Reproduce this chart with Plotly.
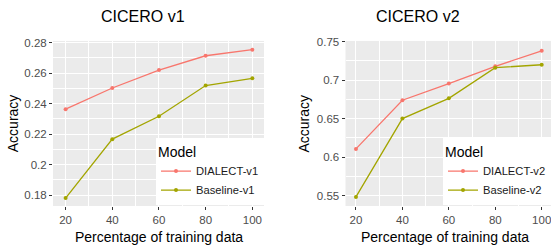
import plotly.graph_objects as go

# ---- data ----
pct = [20, 40, 60, 80, 100]
v1_dialect = [0.2363, 0.2502, 0.2619, 0.2713, 0.2753]
v1_baseline = [0.1781, 0.2167, 0.2317, 0.2518, 0.2565]
v2_dialect = [0.6106, 0.6738, 0.6954, 0.7178, 0.7380]
v2_baseline = [0.5482, 0.6500, 0.6763, 0.7161, 0.7199]
x_ticks = [20, 40, 60, 80, 100]
v1_ticks = [0.18, 0.20, 0.22, 0.24, 0.26, 0.28]
v1_ticklabels = ["0.18", "0.2", "0.22", "0.24", "0.26", "0.28"]
v2_ticks = [0.55, 0.60, 0.65, 0.70, 0.75]
v2_ticklabels = ["0.55", "0.6", "0.65", "0.7", "0.75"]

W, H = 551, 245
RED = "#F8766D"
OLIVE = "#A3A500"
FONT = "Liberation Sans, Arial, sans-serif"

fig = go.Figure()

def add(x, y, name, color, xa, ya, leg):
    fig.add_trace(go.Scatter(
        x=x, y=y, name=name, mode="lines+markers",
        line=dict(color=color, width=1.3),
        marker=dict(color=color, size=4),
        xaxis=xa, yaxis=ya, legend=leg))

add(pct, v1_dialect, "DIALECT-v1", RED, "x", "y", "legend")
add(pct, v1_baseline, "Baseline-v1", OLIVE, "x", "y", "legend")
add(pct, v2_dialect, "DIALECT-v2", RED, "x2", "y2", "legend2")
add(pct, v2_baseline, "Baseline-v2", OLIVE, "x2", "y2", "legend2")

ydom = [1 - 205.2 / H, 1 - 36.7 / H]

common_axis = dict(
    showgrid=True, gridcolor="white", gridwidth=1.1,
    zeroline=False, showline=False,
    ticks="outside", ticklen=3, tickwidth=1, tickcolor="#333333",
    tickfont=dict(family=FONT, size=11.5, color="#4D4D4D"),
    ticklabeloverflow="allow",
)

legend_common = dict(
    title=dict(text="Model", font=dict(family=FONT, size=14, color="black")),
    font=dict(family=FONT, size=11.2, color="#1A1A1A"),
    bgcolor="white", borderwidth=0,
    y=1 - 204.5 / H, yanchor="bottom",
    tracegroupgap=0, itemwidth=30,
)

fig.update_layout(
    width=W, height=H,
    margin=dict(l=0, r=0, t=0, b=0),
    paper_bgcolor="white",
    plot_bgcolor="#EBEBEB",
    font=dict(family=FONT, color="black"),
    xaxis=dict(domain=[53 / W, 264 / W], range=[14.6, 105.0],
               tickvals=x_ticks, anchor="y",
               minor=dict(tickvals=[30, 50, 70, 90], showgrid=True,
                          gridcolor="white", gridwidth=0.5, ticks=""),
               **common_axis),
    yaxis=dict(domain=ydom, range=[0.1729, 0.2810],
               tickvals=v1_ticks, ticktext=v1_ticklabels, anchor="x",
               minor=dict(tickvals=[0.19, 0.21, 0.23, 0.25, 0.27], showgrid=True,
                          gridcolor="white", gridwidth=0.5, ticks=""),
               **common_axis),
    xaxis2=dict(domain=[345.5 / W, 1.0], range=[15.5, 104.0],
                tickvals=x_ticks, anchor="y2",
                minor=dict(tickvals=[30, 50, 70, 90], showgrid=True,
                           gridcolor="white", gridwidth=0.5, ticks=""),
                **common_axis),
    yaxis2=dict(domain=ydom, range=[0.5364, 0.7508],
                tickvals=v2_ticks, ticktext=v2_ticklabels, anchor="x2",
                minor=dict(tickvals=[0.575, 0.625, 0.675, 0.725], showgrid=True,
                           gridcolor="white", gridwidth=0.5, ticks=""),
                **common_axis),
    legend=dict(x=264 / W, xanchor="right", **legend_common),
    legend2=dict(x=1.0, xanchor="right", **legend_common),
    showlegend=True,
)

def ann(text, x, y, size, angle=0):
    fig.add_annotation(text=text, x=x / W, y=1 - y / H, xref="paper", yref="paper",
                       xanchor="center", yanchor="middle", showarrow=False,
                       textangle=angle, font=dict(family=FONT, size=size, color="black"))

ann("CICERO v1", 143, 11.5, 16)
ann("CICERO v2", 418, 11.5, 16)
ann("Percentage of training data", 158.5, 237, 14)
ann("Percentage of training data", 444.5, 237, 14)
ann("Accuracy", 12.7, 121, 14, -90)
ann("Accuracy", 304, 121, 14, -90)

fig.write_html(
    "out.html",
    config={"displayModeBar": False},
    post_script="document.body.style.margin='0';document.body.style.overflow='hidden';",
)
